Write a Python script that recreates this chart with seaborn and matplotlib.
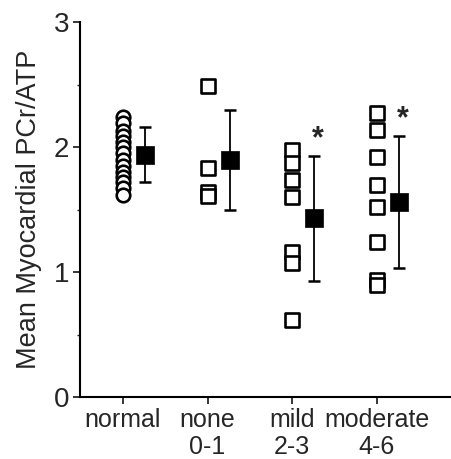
import matplotlib
matplotlib.use("Agg")
import matplotlib.pyplot as plt
import seaborn as sns
import numpy as np
import pandas as pd
from matplotlib.ticker import MultipleLocator

# ---- data ----
categories = ["normal", "none\n0-1", "mild\n2-3", "moderate\n4-6"]
normal_vals = [2.24, 2.19, 2.13, 2.09, 2.04, 2.00, 1.95, 1.90, 1.85, 1.80, 1.76, 1.72, 1.67, 1.62]
none_vals = [2.49, 1.83, 1.64, 1.61]
mild_vals = [1.98, 1.87, 1.74, 1.60, 1.16, 1.07, 0.62]
moderate_vals = [2.27, 2.14, 1.92, 1.70, 1.52, 1.24, 0.94, 0.90]
group_means = [1.94, 1.90, 1.43, 1.56]
group_sd = [0.22, 0.40, 0.50, 0.53]
significant = [False, False, True, True]
markers = ["o", "s", "s", "s"]

sns.set_style("ticks")
plt.rcParams["font.family"] = ["Liberation Sans", "DejaVu Sans"]

fig = plt.figure(figsize=(4.52, 4.59), dpi=100)
ax = fig.add_axes([0.177, 0.135, 0.818, 0.817])

groups = [normal_vals, none_vals, mild_vals, moderate_vals]
for i, vals in enumerate(groups):
    df = pd.DataFrame({"x": [i] * len(vals), "y": vals})
    sns.scatterplot(data=df, x="x", y="y", marker=markers[i], s=95,
                    facecolor="white", edgecolor="black", linewidth=1.9,
                    ax=ax, zorder=3)

off = 0.26
mdf = pd.DataFrame({"x": np.arange(4) + off, "y": group_means, "sd": group_sd})
ax.errorbar(mdf["x"], mdf["y"], yerr=mdf["sd"], fmt="none", ecolor="black",
            elinewidth=1.3, capsize=4.5, capthick=1.8, zorder=2)
sns.scatterplot(data=mdf, x="x", y="y", marker="s", s=160, color="black",
                edgecolor="black", linewidth=0.5, ax=ax, zorder=4)

for i, sig in enumerate(significant):
    if sig:
        ax.text(i + off + 0.04, group_means[i] + group_sd[i] + 0.13, "*",
                ha="center", va="center", fontsize=22, fontweight="bold")

ax.set_xlim(-0.506, 3.86)
ax.set_ylim(0, 3)
ax.set_xticks(range(4))
ax.set_xticklabels(categories, fontsize=18, linespacing=1.15)
ax.set_yticks([0, 1, 2, 3])
ax.set_yticklabels(["0", "1", "2", "3"], fontsize=20)
ax.yaxis.set_minor_locator(MultipleLocator(0.5))
ax.tick_params(axis="y", which="major", length=5, width=1.3, pad=3)
ax.tick_params(axis="y", which="minor", length=2.5, width=1.0)
ax.tick_params(axis="x", which="major", length=5, width=1.3, pad=3)
ax.set_xlabel("")
ax.set_ylabel("Mean Myocardial PCr/ATP", fontsize=19.5, labelpad=8)
for s in ["top", "right"]:
    ax.spines[s].set_visible(False)
for s in ["left", "bottom"]:
    ax.spines[s].set_linewidth(1.5)
    ax.spines[s].set_color("black")

fig.savefig("out.png", dpi=100)
